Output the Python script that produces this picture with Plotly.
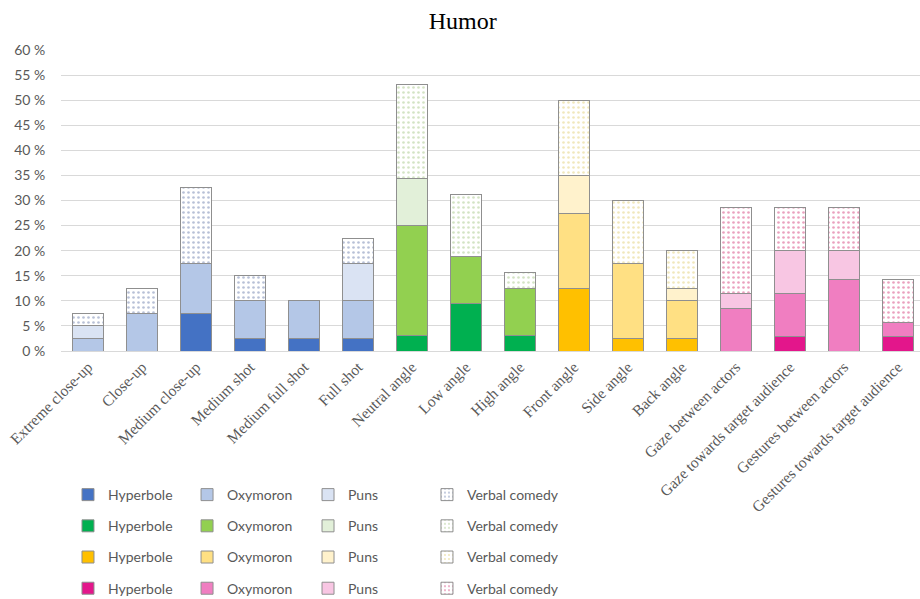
import plotly.graph_objects as go

# Categories along the x axis and the colour group each one belongs to
categories = [
    "Extreme close-up", "Close-up", "Medium close-up", "Medium shot",
    "Medium full shot", "Full shot", "Neutral angle", "Low angle",
    "High angle", "Front angle", "Side angle", "Back angle",
    "Gaze between actors", "Gaze towards target audience",
    "Gestures between actors", "Gestures towards target audience",
]
category_group = [0, 0, 0, 0, 0, 0, 1, 1, 1, 2, 2, 2, 3, 3, 3, 3]

# Shares (%) of each humor type per category
hyperbole = [0, 0, 7.5, 2.5, 2.5, 2.5, 3.13, 9.38, 3.13, 12.5, 2.5, 2.5, 0, 2.86, 0, 2.86]
oxymoron = [2.5, 7.5, 10, 7.5, 7.5, 7.5, 21.88, 9.38, 9.38, 15, 15, 7.5, 8.57, 8.57, 14.29, 2.86]
puns = [2.5, 0, 0, 0, 0, 7.5, 9.38, 0, 0, 7.5, 0, 2.5, 2.86, 8.57, 5.71, 0]
verbal_comedy = [2.5, 5, 15, 5, 0, 5, 18.75, 12.5, 3.13, 15, 12.5, 7.5, 17.14, 8.57, 8.57, 8.57]

series_names = ["Hyperbole", "Oxymoron", "Puns", "Verbal comedy"]
series_values = [hyperbole, oxymoron, puns, verbal_comedy]

# Palette per group: hyperbole, oxymoron, puns, verbal-comedy dots
palettes = [
    ["#4472C4", "#B4C7E7", "#DAE3F3", "#6F82AE"],
    ["#00B050", "#92D050", "#E2F0D9", "#A8C88A"],
    ["#FFC000", "#FFE083", "#FFF2CC", "#E2CF7A"],
    ["#E3168B", "#F07EC1", "#F8C6E3", "#D5447E"],
]

# One legend column per humor type
legend_ids = ["legend", "legend2", "legend3", "legend4"]
outline = "#8F8F8F"

traces = []
for g, pal in enumerate(palettes):
    for s, (name, vals) in enumerate(zip(series_names, series_values)):
        y = [v if (category_group[i] == g and v > 0) else None for i, v in enumerate(vals)]
        marker = dict(color=pal[s], line=dict(color=outline, width=1))
        if s == 3:
            marker = dict(
                color="white",
                line=dict(color=outline, width=1),
                pattern=dict(shape=".", fgcolor=pal[s], bgcolor="white",
                             size=5, solidity=0.22, fillmode="overlay"),
            )
        traces.append(go.Bar(
            x=categories, y=y, name=name, marker=marker,
            legend=legend_ids[s], legendgroup=f"g{g}s{s}",
            legendrank=g, hoverinfo="x+y+name",
        ))

fig = go.Figure(traces)

legend_font = dict(family="Lato, 'Open Sans', sans-serif", size=14, color="#595959")
column_x = [0.0739, 0.2033, 0.3348, 0.4641]
legend_layouts = {}
for s, lid in enumerate(legend_ids):
    legend_layouts[lid] = dict(
        orientation="v", xref="container", yref="container",
        x=column_x[s], xanchor="left", y=0.2003, yanchor="top",
        font=legend_font, tracegroupgap=10,
        bgcolor="rgba(0,0,0,0)", traceorder="grouped",
    )

fig.update_layout(
    width=920, height=599,
    margin=dict(l=61, r=0, t=50, b=248, autoexpand=False),
    barmode="stack", bargap=0.43,
    plot_bgcolor="white", paper_bgcolor="white",
    title=dict(text="Humor", x=0.503, xanchor="center", y=0.966, yanchor="middle",
               font=dict(family="Liberation Serif, 'Times New Roman', serif", size=24, color="#000000")),
    showlegend=True,
    **legend_layouts,
)

fig.update_xaxes(
    range=[-0.5, 15.41], tickangle=-45,
    tickfont=dict(family="Liberation Serif, 'Times New Roman', serif", size=15.5, color="#595959"),
    showline=True, linecolor="#D9D9D9", linewidth=1, showgrid=False,
    ticks="", automargin=False,
)
fig.update_yaxes(
    range=[0, 60], dtick=5, ticksuffix=" %",
    tickfont=dict(family="Lato, 'Open Sans', sans-serif", size=14, color="#595959"),
    showgrid=True, gridcolor="#D9D9D9", gridwidth=1, zeroline=False,
    ticks="outside", ticklen=12, tickcolor="rgba(0,0,0,0)", automargin=False,
)

fig.write_html("out.html")
